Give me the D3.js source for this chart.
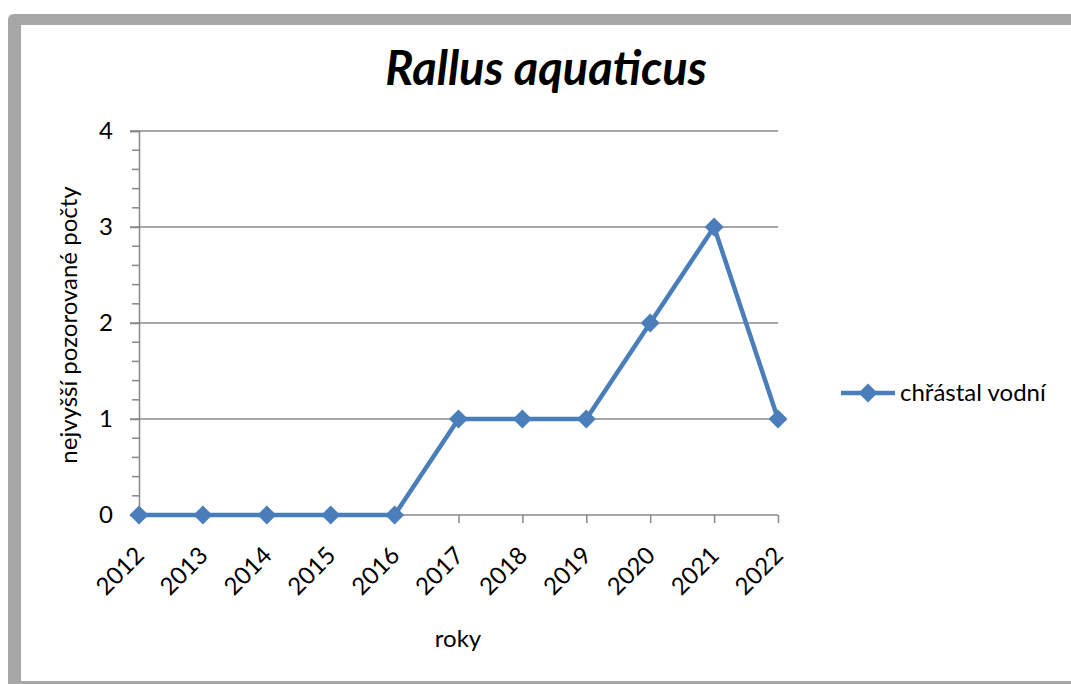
<!DOCTYPE html>
<html>
<head>
<meta charset="utf-8">
<script src="https://cdn.jsdelivr.net/npm/d3@7"></script>
<style>
  body { margin: 0; background: #fff; }
  svg { display: block; font-family: Lato, 'Open Sans', sans-serif; }
</style>
</head>
<body>
<svg class="chart" width="1071" height="684"></svg>
<script>
const years = ['2012', '2013', '2014', '2015', '2016', '2017', '2018', '2019', '2020', '2021', '2022'];
const counts = [0, 0, 0, 0, 0, 1, 1, 1, 2, 3, 1];
const yTicks = [0, 1, 2, 3, 4];
const seriesName = 'chřástal vodní';
const title = 'Rallus aquaticus';

const blue = '#4a7ebb';
const gray = '#a6a6a6';
const axisGray = '#888';
const fontSize = 24;

const plot = { left: 139, right: 778, top: 131, bottom: 515 };

const svg = d3.select('svg.chart');

// frame
svg.append('path')
  .attr('d', 'M8,684 L8,20 Q8,14 14,14 L1071,14 L1071,25 L21,25 L21,684 Z')
  .attr('fill', gray);
svg.append('rect')
  .attr('x', 8).attr('y', 681).attr('width', 1063).attr('height', 3)
  .attr('fill', gray);

const x = d3.scalePoint().domain(years).range([plot.left, plot.right]);
const y = d3.scaleLinear().domain([0, 4]).range([plot.bottom, plot.top]);

// gridlines
svg.append('g').selectAll('line').data(yTicks.filter(d => d > 0))
  .enter().append('line')
  .attr('x1', plot.left - 9).attr('x2', plot.right)
  .attr('y1', d => y(d)).attr('y2', d => y(d))
  .attr('stroke', axisGray).attr('stroke-width', 1.5);

// y minor ticks
const minor = d3.range(0, 4.001, 0.2).filter(d => Math.abs(d - Math.round(d)) > 0.01);
svg.append('g').selectAll('line').data(minor)
  .enter().append('line')
  .attr('x1', plot.left - 7).attr('x2', plot.left)
  .attr('y1', d => y(d)).attr('y2', d => y(d))
  .attr('stroke', axisGray).attr('stroke-width', 1.5);

// y axis
const yAxis = svg.append('g')
  .attr('transform', `translate(${plot.left},0)`)
  .call(d3.axisLeft(y).tickValues(yTicks).tickSize(9).tickPadding(17).tickFormat(d3.format('d')));
yAxis.select('.domain').attr('stroke', axisGray).attr('stroke-width', 1.5);
yAxis.selectAll('.tick line').attr('stroke', axisGray).attr('stroke-width', 1.5);
yAxis.selectAll('.tick text').attr('font-size', fontSize).attr('fill', '#000').attr('font-family', 'Lato');

// x axis
const xAxis = svg.append('g')
  .attr('transform', `translate(0,${plot.bottom})`)
  .call(d3.axisBottom(x).tickSize(8).tickSizeOuter(0));
xAxis.select('.domain').attr('stroke', axisGray).attr('stroke-width', 1.5)
  .attr('d', `M${plot.left},0H${plot.right}`);
xAxis.selectAll('.tick line').attr('stroke', axisGray).attr('stroke-width', 1.5);
xAxis.selectAll('.tick text')
  .attr('font-size', fontSize).attr('fill', '#000').attr('font-family', 'Lato')
  .attr('text-anchor', 'end')
  .attr('x', 0).attr('y', 0).attr('dy', null)
  .attr('transform', 'translate(6,42) rotate(-45)');

// line
const line = d3.line()
  .x((d, i) => x(years[i]))
  .y(d => y(d));

svg.append('path')
  .datum(counts)
  .attr('d', line)
  .attr('fill', 'none')
  .attr('stroke', blue)
  .attr('stroke-width', 4.5)
  .attr('stroke-linejoin', 'round');

const diamond = d3.symbol().type(d3.symbolDiamond2).size(230);
svg.append('g').selectAll('path').data(counts)
  .enter().append('path')
  .attr('d', diamond)
  .attr('transform', (d, i) => `translate(${x(years[i])},${y(d)})`)
  .attr('fill', blue);

// title
svg.append('text')
  .attr('x', 546).attr('y', 85)
  .attr('text-anchor', 'middle')
  .attr('font-size', 47).attr('font-weight', 'bold').attr('font-style', 'italic')
  .text(title);

// axis titles
svg.append('text')
  .attr('x', 458).attr('y', 647)
  .attr('text-anchor', 'middle')
  .attr('font-size', fontSize)
  .text('roky');

svg.append('text')
  .attr('transform', 'translate(77,325) rotate(-90)')
  .attr('text-anchor', 'middle')
  .attr('font-size', fontSize)
  .text('nejvyšší pozorované počty');

// legend
const legend = svg.append('g').attr('transform', 'translate(841,393)');
legend.append('line')
  .attr('x1', 0).attr('x2', 54)
  .attr('stroke', blue).attr('stroke-width', 4.5);
legend.append('path')
  .attr('d', diamond)
  .attr('transform', 'translate(27,0)')
  .attr('fill', blue);
legend.append('text')
  .attr('x', 59).attr('y', 8)
  .attr('font-size', fontSize)
  .text(seriesName);
</script>
</body>
</html>
